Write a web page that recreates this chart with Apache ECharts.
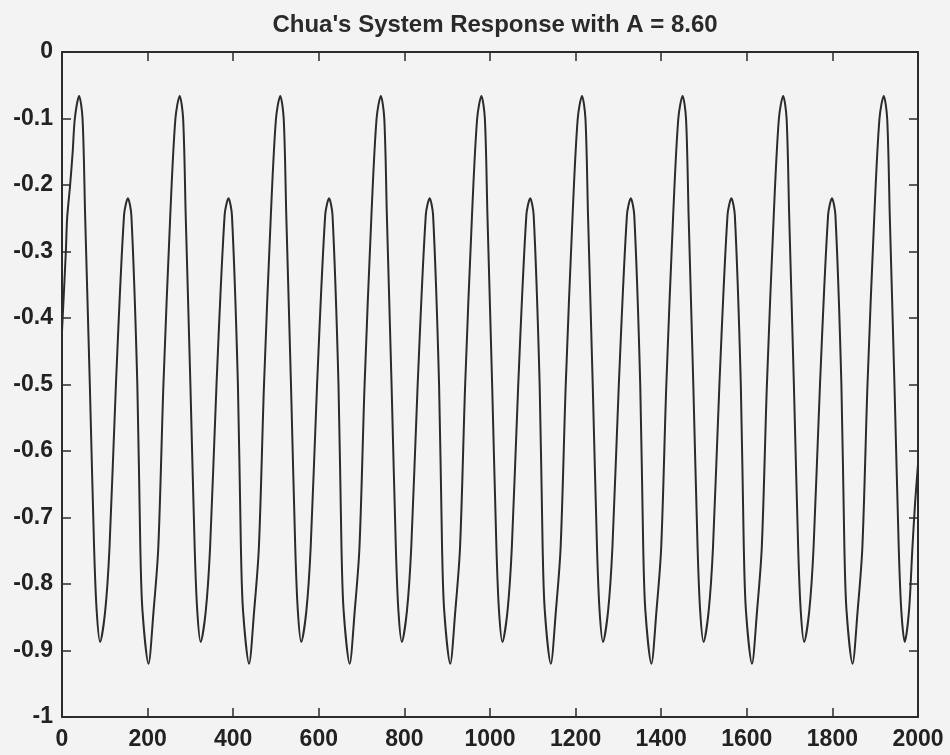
<!DOCTYPE html>
<html>
<head>
<meta charset="utf-8">
<title>Chua's System Response</title>
<script src="https://cdn.jsdelivr.net/npm/echarts@6/dist/echarts.min.js"></script>
<style>
  html, body { margin: 0; padding: 0; background: #f3f3f3; }
  #chart { width: 950px; height: 755px; }
</style>
</head>
<body>
<div id="chart"></div>
<script>
// values, one line per oscillation (high peak -> next high peak)
const steps = [
  0, 9, 12, 19, 25, 30,
  40, 48, 54, 65, 75, 81, 89, 101, 111, 126, 145, 154, 162, 176, 183, 188, 202, 214, 225, 237, 253, 265,
  275, 283, 289, 300, 310, 316, 324, 336, 346, 361, 380, 389, 397, 411, 418, 423, 437, 449, 460, 472, 488, 500,
  510, 518, 524, 535, 545, 551, 559, 571, 581, 596, 615, 624, 632, 646, 653, 658, 672, 684, 695, 707, 723, 735,
  745, 753, 759, 770, 780, 786, 794, 806, 816, 831, 850, 859, 867, 881, 888, 893, 907, 919, 930, 942, 958, 970,
  980, 988, 994, 1005, 1015, 1021, 1029, 1041, 1051, 1066, 1085, 1094, 1102, 1116, 1123, 1128, 1142, 1154, 1165, 1177, 1193, 1205,
  1215, 1223, 1229, 1240, 1250, 1256, 1264, 1276, 1286, 1301, 1320, 1329, 1337, 1351, 1358, 1363, 1377, 1389, 1400, 1412, 1428, 1440,
  1450, 1458, 1464, 1475, 1485, 1491, 1499, 1511, 1521, 1536, 1555, 1564, 1572, 1586, 1593, 1598, 1612, 1624, 1635, 1647, 1663, 1675,
  1685, 1693, 1699, 1710, 1720, 1726, 1734, 1746, 1756, 1771, 1790, 1799, 1807, 1821, 1828, 1833, 1847, 1859, 1870, 1882, 1898, 1910,
  1920, 1928, 1934, 1945, 1955, 1961, 1969, 1979, 1987, 1993, 2000
];
const response = [
  -0.42, -0.30, -0.25, -0.20, -0.15, -0.10,
  -0.066, -0.10, -0.245, -0.50, -0.745, -0.84, -0.887, -0.84, -0.745, -0.50, -0.245, -0.22, -0.245, -0.50, -0.745, -0.84, -0.92, -0.84, -0.745, -0.50, -0.245, -0.10,
  -0.066, -0.10, -0.245, -0.50, -0.745, -0.84, -0.887, -0.84, -0.745, -0.50, -0.245, -0.22, -0.245, -0.50, -0.745, -0.84, -0.92, -0.84, -0.745, -0.50, -0.245, -0.10,
  -0.066, -0.10, -0.245, -0.50, -0.745, -0.84, -0.887, -0.84, -0.745, -0.50, -0.245, -0.22, -0.245, -0.50, -0.745, -0.84, -0.92, -0.84, -0.745, -0.50, -0.245, -0.10,
  -0.066, -0.10, -0.245, -0.50, -0.745, -0.84, -0.887, -0.84, -0.745, -0.50, -0.245, -0.22, -0.245, -0.50, -0.745, -0.84, -0.92, -0.84, -0.745, -0.50, -0.245, -0.10,
  -0.066, -0.10, -0.245, -0.50, -0.745, -0.84, -0.887, -0.84, -0.745, -0.50, -0.245, -0.22, -0.245, -0.50, -0.745, -0.84, -0.92, -0.84, -0.745, -0.50, -0.245, -0.10,
  -0.066, -0.10, -0.245, -0.50, -0.745, -0.84, -0.887, -0.84, -0.745, -0.50, -0.245, -0.22, -0.245, -0.50, -0.745, -0.84, -0.92, -0.84, -0.745, -0.50, -0.245, -0.10,
  -0.066, -0.10, -0.245, -0.50, -0.745, -0.84, -0.887, -0.84, -0.745, -0.50, -0.245, -0.22, -0.245, -0.50, -0.745, -0.84, -0.92, -0.84, -0.745, -0.50, -0.245, -0.10,
  -0.066, -0.10, -0.245, -0.50, -0.745, -0.84, -0.887, -0.84, -0.745, -0.50, -0.245, -0.22, -0.245, -0.50, -0.745, -0.84, -0.92, -0.84, -0.745, -0.50, -0.245, -0.10,
  -0.066, -0.10, -0.245, -0.50, -0.745, -0.84, -0.887, -0.84, -0.745, -0.68, -0.62
];

const titleText = "Chua's System Response with A = 8.60";
const inkColor = '#2b2b2b';
const labelFont = { color: '#222', fontSize: 23, fontWeight: 'bold', fontFamily: 'Liberation Sans, Arial, sans-serif' };

const chart = echarts.init(document.getElementById('chart'), null, { renderer: 'canvas' });

// x axis: bottom carries the labels, top only the inward ticks (MATLAB style box)
const xBase = {
  type: 'value', min: 0, max: 2000, interval: 200,
  splitLine: { show: false },
  axisLine: { show: true, onZero: false, lineStyle: { color: inkColor, width: 2 } },
  axisTick: { show: true, inside: true, length: 9, lineStyle: { color: inkColor, width: 1.5 } }
};
const yBase = {
  type: 'value', min: -1, max: 0, interval: 0.1,
  splitLine: { show: false },
  axisLine: { show: true, onZero: false, lineStyle: { color: inkColor, width: 2 } },
  axisTick: { show: true, inside: true, length: 9, lineStyle: { color: inkColor, width: 1.5 } }
};

chart.setOption({
  animation: false,
  backgroundColor: '#f3f3f3',
  title: {
    text: titleText,
    left: 490, top: 8, textAlign: 'center',
    textStyle: { color: '#2a2a2a', fontSize: 24, fontWeight: 'bold', fontFamily: 'Liberation Sans, Arial, sans-serif' }
  },
  grid: { left: 62, right: 32, top: 52, bottom: 38, outerBoundsMode: 'none' },
  xAxis: [
    Object.assign({}, xBase, {
      position: 'bottom',
      axisLabel: Object.assign({ margin: 11, formatter: v => String(v) }, labelFont)
    }),
    Object.assign({}, xBase, { position: 'top', axisLabel: { show: false } })
  ],
  yAxis: [
    Object.assign({}, yBase, {
      position: 'left',
      axisLabel: Object.assign({ margin: 9, formatter: v => String(+v.toFixed(1)) }, labelFont)
    }),
    Object.assign({}, yBase, { position: 'right', axisLabel: { show: false } })
  ],
  series: [{
    type: 'line',
    data: steps.map((s, i) => [s, response[i]]),
    showSymbol: false,
    smooth: 0.3,
    lineStyle: { color: inkColor, width: 2 }
  }]
});
</script>
</body>
</html>
